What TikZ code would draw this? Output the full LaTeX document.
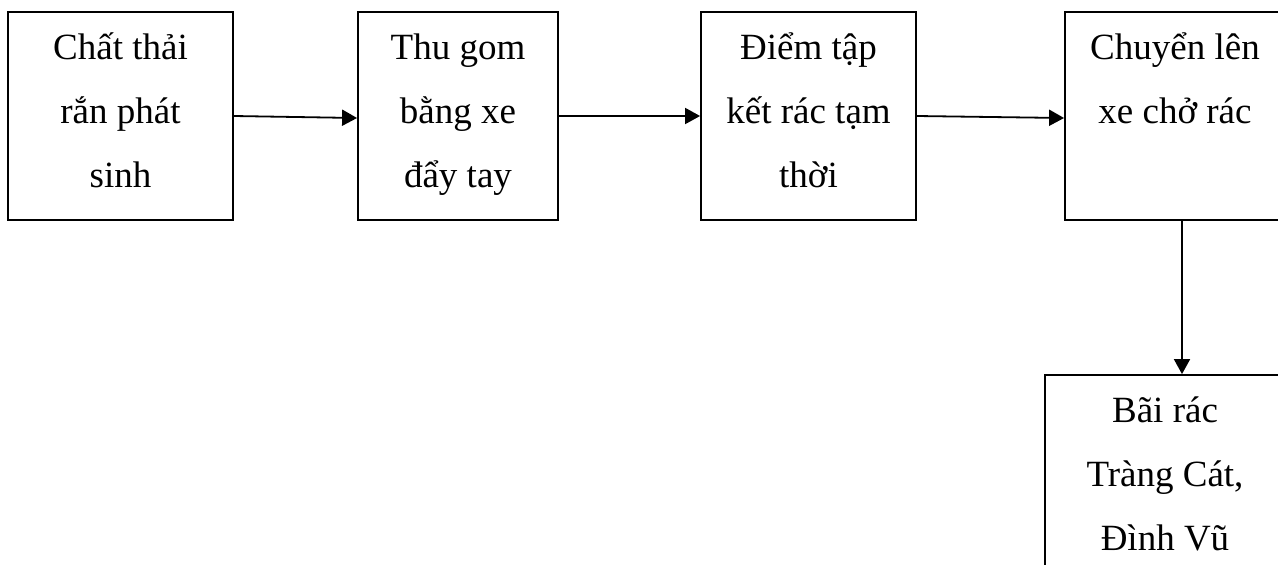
\documentclass[tikz,border=0pt]{standalone}
\usepackage{fontspec}
\setmainfont{Liberation Serif}
\usetikzlibrary{arrows.meta}

\begin{document}
\begin{tikzpicture}[%
          x=1pt, y=-1pt,
          box/.style={draw, line width=1.8pt, align=center, inner sep=0pt,
                      minimum height=208pt, text height=172pt, text depth=30pt,
                      font=\fontsize{37}{64}\selectfont},
          arrow/.style={line width=1.8pt, -{Triangle[length=15pt,width=16pt]}}]

  \path[use as bounding box, clip] (0,0) rectangle (1278,565);

  \node[box,minimum width=225pt] (thai) at (120.5,116) {Chất thải\\rắn phát\\sinh};
  \node[box,minimum width=200pt] (thugom) at (458,116) {Thu gom\\bằng xe\\đẩy tay};
  \node[box,minimum width=215pt] (diemtap) at (808.5,116) {Điểm tập\\kết rác tạm\\thời};
  \node[box,minimum width=220pt] (xecho) at (1175,116) {Chuyển lên\\xe chở rác\\~};
  \node[box,minimum width=240pt] (baitrac) at (1165,479) {Bãi rác\\Tràng Cát,\\Đình Vũ};

  \draw[arrow] (thai.east) -- ([yshift=-2pt]thugom.west);
  \draw[arrow] (thugom.east) -- (diemtap.west);
  \draw[arrow] (diemtap.east) -- ([yshift=-2pt]xecho.west);
  \draw[arrow] ([xshift=7pt]xecho.south) -- ([xshift=17pt]baitrac.north);

\end{tikzpicture}
\end{document}
